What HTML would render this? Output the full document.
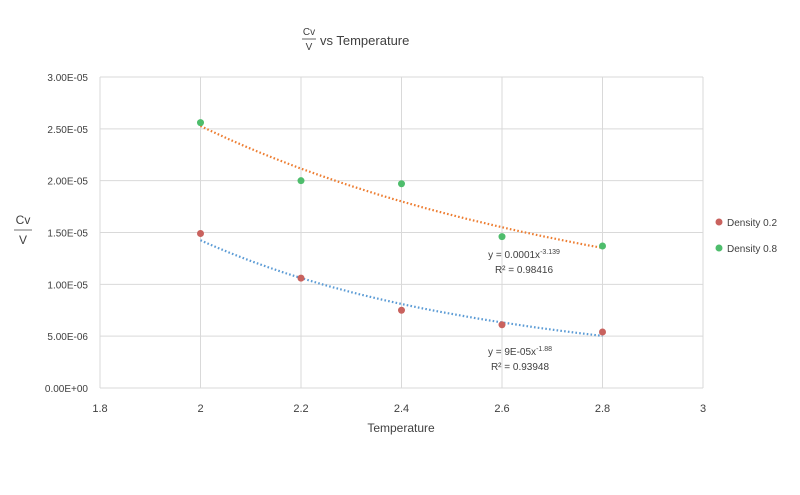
<!DOCTYPE html>
<html><head><meta charset="utf-8"><style>
body{margin:0;background:#fff;font-family:"Liberation Sans",sans-serif;}
svg text{font-family:"Liberation Sans",sans-serif;fill:#404040;}
</style></head><body>
<svg width="800" height="490">
<g>
<text x="309" y="35" font-size="10" text-anchor="middle">Cv</text>
<line x1="302" y1="39" x2="316" y2="39" stroke="#404040" stroke-width="0.8"/>
<text x="309" y="50" font-size="10" text-anchor="middle">V</text>
<text x="320" y="45" font-size="13">vs Temperature</text>
</g>
<g id="grid"></g>
<g id="axes"></g>
<g id="marks"></g>
<g>
<text x="23" y="224" font-size="12" text-anchor="middle">Cv</text>
<line x1="14" y1="230" x2="32" y2="230" stroke="#404040" stroke-width="0.8"/>
<text x="23" y="244" font-size="12" text-anchor="middle">V</text>
</g>
<text x="401" y="432" font-size="12" text-anchor="middle">Temperature</text>
<g>
<text x="524" y="258" font-size="10" text-anchor="middle">y = 0.0001x<tspan font-size="7" dy="-4">-3.139</tspan></text>
<text x="524" y="273" font-size="10" text-anchor="middle">R² = 0.98416</text>
</g>
<g>
<text x="520" y="355" font-size="10" text-anchor="middle">y = 9E-05x<tspan font-size="7" dy="-4">-1.88</tspan></text>
<text x="520" y="370" font-size="10" text-anchor="middle">R² = 0.93948</text>
</g>
<g>
<g><circle cx="719" cy="222" r="3.5" fill="#c9625e"/><text x="727" y="226" font-size="10">Density 0.2</text></g>
<g><circle cx="719" cy="248" r="3.5" fill="#4ebd6c"/><text x="727" y="252" font-size="10">Density 0.8</text></g>
</g>
</svg>
<script>
const temps=[2,2.2,2.4,2.6,2.8];
const density02=[1.49e-5,1.06e-5,0.75e-5,0.61e-5,0.54e-5];
const density08=[2.56e-5,2.00e-5,1.97e-5,1.46e-5,1.37e-5];
const xTicks=[1.8,2,2.2,2.4,2.6,2.8,3];
const xTickLabels=["1.8","2","2.2","2.4","2.6","2.8","3"];
const yTicks=[0,0.5e-5,1e-5,1.5e-5,2e-5,2.5e-5,3e-5];
const yTickLabels=["0.00E+00","5.00E-06","1.00E-05","1.50E-05","2.00E-05","2.50E-05","3.00E-05"];
const L=100,R=703,T=77,B=388;
const xs=v=>L+(v-1.8)/1.2*(R-L);
const ys=v=>B-v/3e-5*(B-T);
const NS="http://www.w3.org/2000/svg";
function mk(tag,attrs,parent){const e=document.createElementNS(NS,tag);for(const k in attrs)e.setAttribute(k,attrs[k]);parent.appendChild(e);return e;}
const grid=document.getElementById('grid'),axes=document.getElementById('axes'),marks=document.getElementById('marks');
xTicks.forEach((t,i)=>{
 const l=mk('line',{x1:xs(t),x2:xs(t),y1:T,y2:B,stroke:'#d9d9d9','stroke-width':1},grid);
 
 
 const tx=mk('text',{x:xs(t),y:B+24,'font-size':11,'text-anchor':'middle'},axes);
 tx.textContent=xTickLabels[i];
 
 
});
yTicks.forEach((t,i)=>{
 const l=mk('line',{x1:L,x2:R,y1:ys(t),y2:ys(t),stroke:'#d9d9d9','stroke-width':1},grid);
 
 
 const tx=mk('text',{x:88,y:ys(t)+4,'font-size':10,'text-anchor':'end'},axes);
 tx.textContent=yTickLabels[i];
 
 
});
function powerFit(xv,yv){
 const n=xv.length;let sx=0,sy=0,sxx=0,sxy=0;
 for(let i=0;i<n;i++){const a=Math.log(xv[i]),b=Math.log(yv[i]);sx+=a;sy+=b;sxx+=a*a;sxy+=a*b;}
 const b=(n*sxy-sx*sy)/(n*sxx-sx*sx);const a=Math.exp((sy-b*sx)/n);return [a,b];
}
function trend(vals,color,name){
 const [a,b]=powerFit(temps,vals);let d='';
 const x0=temps[0],x1=temps[temps.length-1];
 for(let k=0;k<=60;k++){const x=x0+(x1-x0)*k/60;d+=(k?'L':'M')+xs(x).toFixed(1)+','+ys(a*Math.pow(x,b)).toFixed(1);}
 const p=mk('path',{d:d,fill:'none',stroke:color,'stroke-width':2.2,'stroke-dasharray':'1.6 2.2'},marks);
 
 
}
trend(density08,'#ed7d31','trendline-density-0.8');
trend(density02,'#5b9bd5','trendline-density-0.2');
function pts(vals,color,name){
 vals.forEach((v,i)=>{
  const c=mk('circle',{cx:xs(temps[i]),cy:ys(v),r:3.5,fill:color},marks);
  
  
 });
}
pts(density02,'#c9625e','point-density-0.2');
pts(density08,'#4ebd6c','point-density-0.8');
</script>
</body></html>
